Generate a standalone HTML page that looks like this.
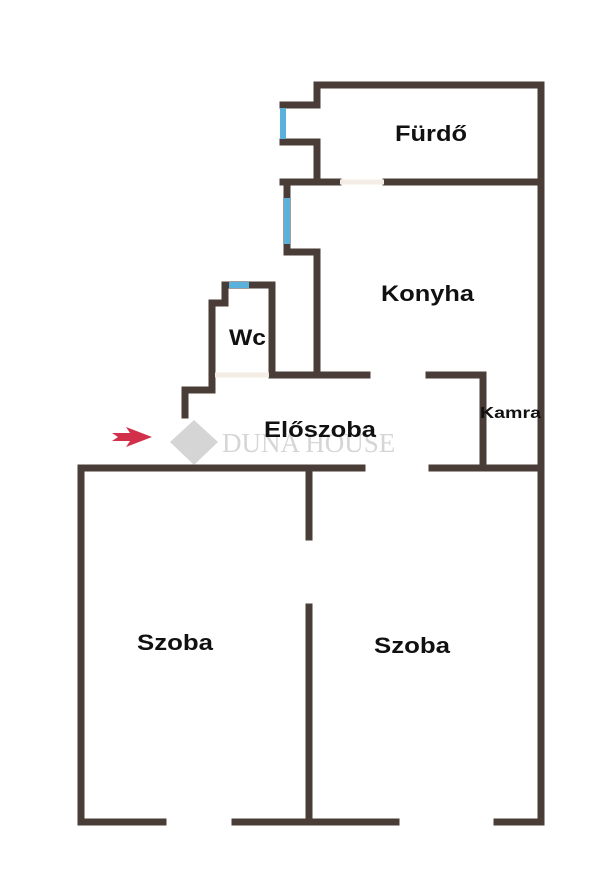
<!DOCTYPE html>
<html><head><meta charset="utf-8"><style>
body{margin:0;background:#fff;width:600px;height:886px;overflow:hidden}
svg{display:block}
text{font-family:"Liberation Sans",sans-serif;font-weight:bold;fill:#111}
</style></head><body>
<svg width="600" height="886" viewBox="0 0 600 886">
<g stroke="#4a3d37" stroke-width="7" fill="none" stroke-linecap="square" stroke-linejoin="miter">
<polyline points="317,182 317,142 283,142"/>
<polyline points="283,105 317,105 317,85 541,85 541,822 497,822"/>
<polyline points="283,182 338,182"/>
<line x1="386" y1="182" x2="541" y2="182"/>
<polyline points="287,182 287,252 317,252 317,375"/>
<polyline points="272,375 367,375"/>
<polyline points="429,375 483,375 483,466"/>
<polyline points="212,375 212,303 225,303 225,285 272,285 272,375"/>
<polyline points="212,375 212,390 185,390 185,415"/>
<polyline points="362,468 81,468 81,822 163,822"/>
<line x1="432" y1="468" x2="541" y2="468"/>
<line x1="235" y1="822" x2="396" y2="822"/>
<line x1="309" y1="468" x2="309" y2="537"/>
<line x1="309" y1="607" x2="309" y2="822"/>
</g>
<g stroke="#5ab2dc" stroke-width="6">
<line x1="283" y1="108" x2="283" y2="139"/>
<line x1="287" y1="198" x2="287" y2="244"/>
<line x1="229" y1="285" x2="249" y2="285"/>
</g>
<g stroke="#f3ede6" stroke-width="5">
<line x1="340" y1="182" x2="384" y2="182"/>
<line x1="215" y1="375" x2="269" y2="375"/>
</g>
<polygon points="112,433 130,433 126,427 152,437 126,447 130,441 112,441 118,437" fill="#d2304a"/>
<g opacity="0.4">
<polygon points="194,420 218,442 194,465 170,442" fill="#999"/>
<text x="222" y="452" style="font-family:'Liberation Serif',serif;font-weight:normal;fill:#999;font-size:27px">DUNA HOUSE</text>
</g>
<g font-size="22" lengthAdjust="spacingAndGlyphs">
<text x="395" y="141" textLength="72" lengthAdjust="spacingAndGlyphs">Fürdő</text>
<text x="381" y="301" textLength="93" lengthAdjust="spacingAndGlyphs">Konyha</text>
<text x="229" y="345" textLength="37" lengthAdjust="spacingAndGlyphs">Wc</text>
<text x="264" y="437" textLength="112" lengthAdjust="spacingAndGlyphs">Előszoba</text>
<text x="137" y="650" textLength="76" lengthAdjust="spacingAndGlyphs">Szoba</text>
<text x="374" y="653" textLength="76" lengthAdjust="spacingAndGlyphs">Szoba</text>
</g>
<text x="480" y="418" font-size="16" textLength="61" lengthAdjust="spacingAndGlyphs">Kamra</text>
</svg>
</body></html>
